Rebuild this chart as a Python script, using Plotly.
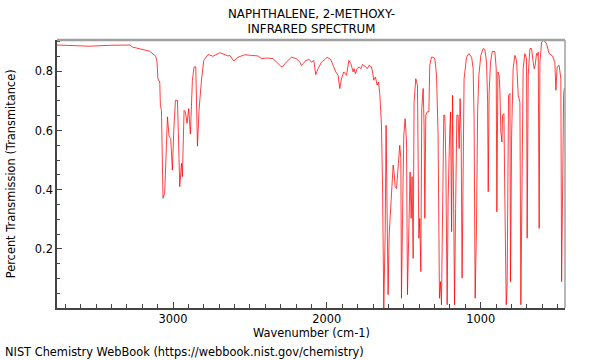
import plotly.graph_objects as go

title_lines = ["NAPHTHALENE, 2-METHOXY-", "INFRARED SPECTRUM"]
x_label = "Wavenumber (cm-1)"
y_label = "Percent Transmission (Transmitance)"
footer = "NIST Chemistry WebBook (https://webbook.nist.gov/chemistry)"
x_ticks = [3000, 2000, 1000]
y_ticks = [0.2, 0.4, 0.6, 0.8]

wavenumber = [
    3754, 3672, 3542, 3412, 3282, 3262, 3151, 3112, 3104, 3098, 3086, 3082, 3075,
    3065, 3054, 3036, 3026, 3015, 3004, 2995, 2984, 2971, 2956, 2945, 2939, 2928,
    2919, 2909, 2898, 2887, 2874, 2863, 2852, 2841, 2831, 2815, 2800, 2772, 2740,
    2696, 2664, 2642, 2631, 2605, 2577, 2534, 2490, 2447, 2425, 2393, 2350, 2327,
    2317, 2301, 2288, 2273, 2230, 2197, 2176, 2165, 2154, 2137, 2115, 2100, 2085,
    2072, 2057, 2035, 2013, 1998, 1985, 1974, 1959, 1942, 1927, 1916, 1905, 1890,
    1872, 1857, 1844, 1829, 1823, 1814, 1803, 1790, 1779, 1768, 1753, 1738, 1725,
    1710, 1703, 1695, 1684, 1673, 1664, 1656, 1645, 1638, 1630, 1621, 1615, 1608,
    1602, 1595, 1586, 1578, 1569, 1563, 1556, 1547, 1537, 1526, 1519, 1515, 1508,
    1500, 1491, 1482, 1476, 1465, 1459, 1452, 1446, 1439, 1433, 1422, 1411, 1402,
    1396, 1389, 1383, 1374, 1368, 1363, 1357, 1348, 1337, 1331, 1320, 1309, 1298,
    1287, 1277, 1268, 1261, 1255, 1246, 1240, 1233, 1227, 1218, 1212, 1202, 1196,
    1189, 1183, 1176, 1170, 1163, 1155, 1147, 1140, 1134, 1127, 1121, 1114, 1108,
    1092, 1077, 1059, 1049, 1043, 1036, 1027, 1020, 1012, 999, 984, 973, 962, 955,
    951, 945, 936, 925, 908, 899, 895, 888, 880, 875, 869, 862, 858, 849, 843, 834,
    828, 819, 810, 806, 799, 789, 778, 767, 756, 745, 739, 732, 724, 713, 702, 698,
    691, 680, 669, 659, 652, 646, 637, 630, 626, 620, 615, 604, 589, 572, 555, 533,
    518, 511, 503, 490, 479, 474, 468, 461, 457, 452,
]
transmittance = [
    0.889, 0.887, 0.885, 0.888, 0.889, 0.882, 0.868, 0.851, 0.831, 0.775, 0.764, 0.685, 0.668,
    0.371, 0.388, 0.646, 0.581, 0.573, 0.466, 0.601, 0.702, 0.702, 0.410, 0.489, 0.444, 0.668,
    0.663, 0.624, 0.674, 0.588, 0.770, 0.815, 0.815, 0.547, 0.668, 0.770, 0.837, 0.857, 0.851,
    0.863, 0.856, 0.852, 0.854, 0.835, 0.848, 0.856, 0.854, 0.852, 0.843, 0.845, 0.843, 0.831,
    0.823, 0.818, 0.815, 0.826, 0.848, 0.843, 0.831, 0.820, 0.826, 0.837, 0.840, 0.831, 0.837,
    0.789, 0.809, 0.831, 0.840, 0.848, 0.843, 0.840, 0.820, 0.798, 0.787, 0.742, 0.775, 0.798,
    0.787, 0.837, 0.826, 0.798, 0.809, 0.792, 0.809, 0.815, 0.809, 0.823, 0.818, 0.809, 0.820,
    0.815, 0.798, 0.770, 0.781, 0.753, 0.764, 0.725, 0.618, 0.416, 0.000, 0.247, 0.618, 0.359,
    0.045, 0.247, 0.342, 0.388, 0.483, 0.460, 0.410, 0.404, 0.494, 0.550, 0.506, 0.033, 0.303,
    0.584, 0.640, 0.561, 0.045, 0.337, 0.460, 0.303, 0.444, 0.168, 0.696, 0.775, 0.753, 0.236,
    0.303, 0.123, 0.674, 0.742, 0.618, 0.303, 0.652, 0.663, 0.663, 0.820, 0.848, 0.848, 0.843,
    0.787, 0.584, 0.033, 0.089, 0.011, 0.472, 0.652, 0.652, 0.506, 0.011, 0.359, 0.584, 0.663,
    0.258, 0.719, 0.359, 0.011, 0.337, 0.652, 0.652, 0.539, 0.708, 0.584, 0.101, 0.584, 0.775,
    0.848, 0.860, 0.848, 0.809, 0.640, 0.033, 0.281, 0.663, 0.787, 0.854, 0.877, 0.874, 0.831, 0.696,
    0.393, 0.730, 0.831, 0.867, 0.867, 0.809, 0.325, 0.798, 0.787, 0.736, 0.595, 0.561, 0.652, 0.657, 0.371, 0.011,
    0.078, 0.719, 0.725, 0.089, 0.584, 0.809, 0.854, 0.837, 0.719, 0.696, 0.011, 0.528, 0.809, 0.860, 0.843, 0.236,
    0.787, 0.877, 0.877, 0.831, 0.809, 0.820, 0.860, 0.854, 0.865, 0.269, 0.831, 0.899, 0.905, 0.893, 0.860, 0.852,
    0.831, 0.736, 0.815, 0.820, 0.775, 0.089, 0.472, 0.719, 0.742, 0.742,
]

FONT = "DejaVu Sans"
FS = 11.4
fig = go.Figure()
fig.add_trace(go.Scatter(
    x=wavenumber, y=transmittance, mode="lines",
    line=dict(color="rgba(255,0,0,0.75)", width=1),
    hoverinfo="skip", showlegend=False,
))

fig.update_layout(
    width=600, height=360,
    margin=dict(l=57, r=35, t=40, b=52),
    paper_bgcolor="white", plot_bgcolor="white",
    font=dict(family=FONT, size=FS, color="#000"),
    xaxis=dict(
        range=[3754, 452], showgrid=False, zeroline=False,
        showline=True, linecolor="#444", linewidth=1.5, mirror=False,
        tickmode="array", tickvals=x_ticks, ticktext=[str(v) for v in x_ticks],
        ticks="inside", ticklen=6, tickcolor="#444",
        minor=dict(tickmode="linear", tick0=0, dtick=100, ticks="inside", ticklen=4, tickcolor="#444"),
        tickfont=dict(family=FONT, size=FS),
    ),
    yaxis=dict(
        range=[0, 0.906], showgrid=False, zeroline=False,
        showline=True, linecolor="#444", linewidth=1.5, mirror=False,
        tickmode="array", tickvals=y_ticks, ticktext=[str(v) for v in y_ticks],
        ticks="inside", ticklen=5, tickcolor="#444",
        minor=dict(tickmode="linear", tick0=0, dtick=0.05, ticks="inside", ticklen=3, tickcolor="#444"),
        tickfont=dict(family=FONT, size=FS),
    ),
    shapes=[
        dict(type="line", xref="paper", yref="paper", x0=0, x1=1, y0=1, y1=1,
             line=dict(color="#a0a0a0", width=2.5)),
        dict(type="line", xref="paper", yref="paper", x0=1, x1=1, y0=0, y1=1,
             line=dict(color="#a0a0a0", width=1.5)),
    ],
    annotations=[
        dict(text="<br>".join(title_lines), xref="paper", yref="paper", x=0.5, y=1.07,
             xanchor="center", yanchor="middle", showarrow=False,
             font=dict(family=FONT, size=11.8)),
        dict(text=x_label, xref="paper", yref="paper", x=0.5, y=-0.094,
             xanchor="center", yanchor="middle", showarrow=False,
             font=dict(family=FONT, size=FS)),
        dict(text=y_label, xref="paper", yref="paper", x=-0.09, y=0.5,
             xanchor="center", yanchor="middle", textangle=-90, showarrow=False,
             font=dict(family=FONT, size=FS)),
        dict(text=footer, xref="paper", yref="paper", x=-0.106, y=-0.164,
             xanchor="left", yanchor="middle", showarrow=False,
             font=dict(family=FONT, size=FS)),
    ],
)

fig.write_html("out.html", config={"displayModeBar": False},
               post_script="document.body.style.margin='0';document.body.style.padding='0';")
